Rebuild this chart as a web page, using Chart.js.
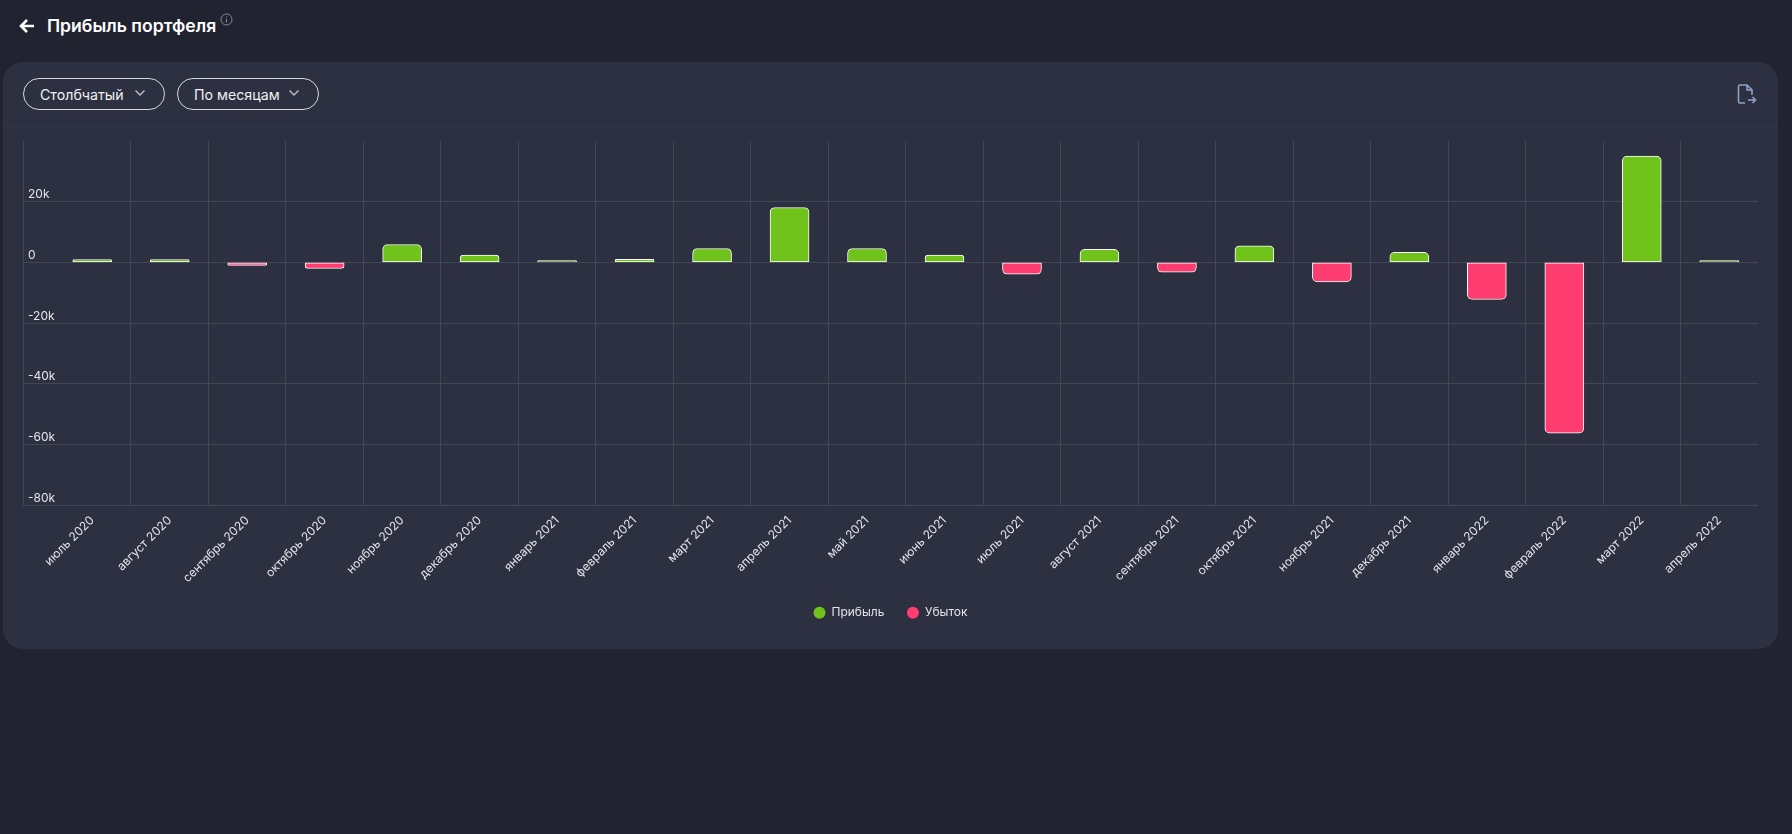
<!DOCTYPE html>
<html lang="ru">
<head>
<meta charset="utf-8">
<title>Прибыль портфеля</title>
<script src="https://cdn.jsdelivr.net/npm/chart.js@4"></script>
<style>
  * { box-sizing: border-box; }
  html, body { margin: 0; height: 100%; overflow: hidden; background: #212330; font-family: Inter, sans-serif; color: #fff; }
  .back { position: absolute; left: 19px; top: 18px; }
  h1 { position: absolute; left: 47px; top: 14px; margin: 0; font-size: 17.6px; line-height: 24px; font-weight: 600; }
  .info { position: absolute; left: 220px; top: 13px; }
  .panel { position: absolute; left: 3px; top: 62px; width: 1775px; height: 587px; background: #2d3040; border-radius: 20px; }
  .divider { position: absolute; left: 0; right: 0; top: 64px; height: 1px; background: #333646; }
  .btn { position: absolute; top: 16px; width: 142px; height: 32px; border: 1px solid #d5d6da; border-radius: 16px; font-size: 14.2px; line-height: 31px; padding-left: 16px; color: #f0f0f2; }
  .btn svg { position: absolute; right: 18px; top: 8px; }
  .export { position: absolute; left: 1734px; top: 21px; }
  .chart-box { position: absolute; left: 0; top: 65px; width: 1775px; height: 522px; }
</style>
</head>
<body>
<svg class="back" width="16" height="16" viewBox="0 0 16 16" fill="none" stroke="#fff" stroke-width="2.6"><path d="M15 8H2M8 2 2 8l6 6"/></svg>
<h1>Прибыль портфеля</h1>
<svg class="info" width="13" height="13" viewBox="0 0 13 13" fill="none" stroke="#8b8d98"><circle cx="6.5" cy="6.5" r="5.5"/><path d="M6.5 6v3.5M6.5 3.5v1"/></svg>
<div class="panel">
  <div class="btn" style="left:20px">Столбчатый<svg width="12" height="12" viewBox="0 0 12 12" fill="none" stroke="#b9bac2" stroke-width="1.5"><path d="M1.5 3.5 6 8l4.5-4.5"/></svg></div>
  <div class="btn" style="left:174px">По месяцам<svg width="12" height="12" viewBox="0 0 12 12" fill="none" stroke="#b9bac2" stroke-width="1.5"><path d="M1.5 3.5 6 8l4.5-4.5"/></svg></div>
  <svg class="export" width="20" height="22" viewBox="0 0 20 22" fill="none" stroke="#8ea2c6" stroke-width="1.6"><path d="M8 20H3a1.5 1.5 0 0 1-1.5-1.5v-15A1.5 1.5 0 0 1 3 2h7l5 5v5M10 2v5h5M11 17h7M15.5 14l3 3-3 3"/></svg>
  <div class="divider"></div>
  <div class="chart-box"><canvas id="myChart"></canvas></div>
</div>
<script>
const categories = ['июль 2020', 'август 2020', 'сентябрь 2020', 'октябрь 2020', 'ноябрь 2020', 'декабрь 2020',
  'январь 2021', 'февраль 2021', 'март 2021', 'апрель 2021', 'май 2021', 'июнь 2021', 'июль 2021', 'август 2021',
  'сентябрь 2021', 'октябрь 2021', 'ноябрь 2021', 'декабрь 2021', 'январь 2022', 'февраль 2022', 'март 2022', 'апрель 2022'];
const profit = [900, 900, null, null, 5900, 2400, 600, 1000, 4600, 18100, 4600, 2400, null, 4300, null, 5500, null, 3300, null, null, 35000, 600];
const loss = [null, null, -1000, -2000, null, null, null, null, null, null, null, null, -3900, null, -3200, null, -6400, null, -12200, -56200, null, null];
const yTickValues = [-80000, -60000, -40000, -20000, 0, 20000, 40000];
const yTickLabels = ['-80k', '-60k', '-40k', '-20k', '0', '20k', ''];

const gridColor = '#434655';
const labelColor = '#e4e5e9';

Chart.defaults.font.family = 'Inter';
Chart.defaults.font.size = 12;
Chart.defaults.color = labelColor;

// the line left of the y labels
const leftLine = {
  id: 'leftLine',
  beforeDatasetsDraw(chart) {
    const y = chart.scales.y;
    const c = chart.ctx;
    c.save();
    c.strokeStyle = gridColor;
    c.lineWidth = 1;
    c.beginPath();
    c.moveTo(Math.round(y.left) + 0.5, chart.chartArea.top);
    c.lineTo(Math.round(y.left) + 0.5, chart.chartArea.bottom);
    c.stroke();
    c.restore();
  }
};

new Chart(document.getElementById('myChart'), {
  type: 'bar',
  data: {
    labels: categories,
    datasets: [{
      label: 'Прибыль',
      data: profit,
      backgroundColor: '#6fc31b',
      borderColor: '#fff',
      borderWidth: 1,
      borderSkipped: false,
      borderRadius: { topLeft: 5, topRight: 5, bottomLeft: 0, bottomRight: 0 },
      barThickness: 39,
    }, {
      label: 'Убыток',
      data: loss,
      backgroundColor: '#ff3d71',
      borderColor: '#fff',
      borderWidth: 1,
      borderSkipped: false,
      borderRadius: { topLeft: 0, topRight: 0, bottomLeft: 5, bottomRight: 5 },
      barThickness: 39,
    }]
  },
  options: {
    animation: false,
    responsive: true,
    maintainAspectRatio: false,
    layout: { padding: { left: 20, right: 20, top: 14, bottom: 20.3 } },
    scales: {
      x: {
        stacked: true,
        afterFit(scale) { scale.height = 78.9; },
        grid: {
          drawTicks: false,
          // no line at the first and last cell edge
          color: (ctx) => (ctx.index === 0 || ctx.tick === undefined ? 'transparent' : gridColor),
        },
        border: { display: false },
        ticks: { autoSkip: false, minRotation: 45, maxRotation: 45, padding: 8, color: labelColor },
      },
      y: {
        stacked: true,
        min: -80000,
        max: 40000,
        afterFit(scale) { scale.width = 30.5; },
        afterBuildTicks(scale) { scale.ticks = yTickValues.map((value) => ({ value })); },
        grid: {
          tickLength: 30,
          color: (ctx) => (ctx.tick && ctx.tick.value === 40000 ? 'transparent' : gridColor),
        },
        border: { display: false },
        ticks: {
          mirror: true,
          padding: -25.5,
          labelOffset: -7,
          color: labelColor,
          callback: (val) => yTickLabels[yTickValues.indexOf(val)],
        },
      }
    },
    plugins: {
      tooltip: { enabled: false },
      legend: {
        position: 'bottom',
        labels: {
          usePointStyle: true,
          pointStyle: 'circle',
          boxHeight: 8.5,
          boxWidth: 12,
          pointStyleWidth: 12,
          padding: 22.5,
          color: labelColor,
          font: { size: 12, lineHeight: 1 },
          // legend dots have no white ring
          generateLabels(chart) {
            return Chart.defaults.plugins.legend.labels.generateLabels(chart).map((item) => ({ ...item, lineWidth: 0, strokeStyle: 'transparent' }));
          },
        }
      }
    }
  },
  plugins: [leftLine]
});
</script>
</body>
</html>
